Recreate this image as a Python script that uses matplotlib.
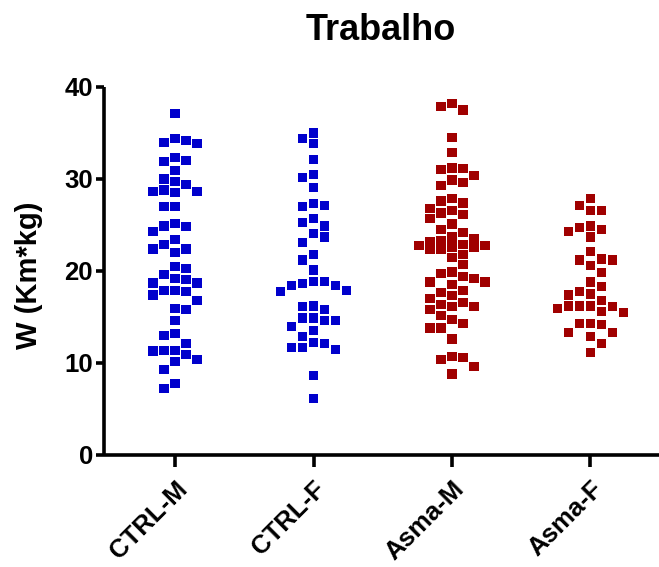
import numpy as np
import matplotlib
matplotlib.use("Agg")
import matplotlib.pyplot as plt

plt.rcParams['font.family'] = ['Liberation Sans', 'DejaVu Sans']

title = "Trabalho"
ylabel = "W (Km*kg)"
categories = ["CTRL-M", "CTRL-F", "Asma-M", "Asma-F"]
yticks = [0, 10, 20, 30, 40]

ctrl_m = [37.1, 34.2, 33.9, 34.0, 34.4, 32.0, 31.9, 32.3, 30.9, 29.7, 30.0, 29.4,
          28.8, 28.6, 28.5, 28.6, 27.0, 27.0, 24.9, 24.8, 25.2, 24.3, 23.4, 22.9,
          22.4, 22.0, 22.4, 20.3, 20.5, 19.2, 19.6, 18.7, 18.7, 19.1, 17.9, 17.4,
          17.8, 17.9, 16.8, 15.9, 15.8, 14.6, 13.0, 13.2, 12.1, 11.4, 10.9, 11.3,
          11.4, 10.2, 10.4, 9.3, 7.8, 7.2]
ctrl_f = [34.4, 33.9, 35.0, 32.1, 30.5, 30.2, 29.1, 27.1, 27.0, 27.3, 25.7, 24.9,
          25.3, 24.1, 23.7, 23.1, 21.8, 21.2, 20.1, 18.9, 18.6, 18.4, 17.8, 17.9,
          18.4, 18.9, 15.8, 16.2, 16.1, 14.9, 14.6, 14.6, 14.0, 14.9, 13.5, 12.9,
          12.2, 11.7, 11.5, 11.7, 12.1, 8.6, 6.1]
asma_m = [37.9, 37.5, 38.2, 34.5, 32.9, 31.2, 31.0, 31.1, 30.4, 29.6, 29.3, 29.9,
          27.9, 27.4, 27.6, 26.6, 26.8, 26.1, 25.7, 26.3, 25.1, 24.2, 24.5, 23.5,
          23.2, 22.6, 22.8, 22.3, 22.8, 22.9, 23.3, 22.4, 23.7, 22.6, 21.8, 21.5,
          20.7, 19.9, 19.7, 19.4, 19.2, 18.8, 18.8, 18.5, 17.9, 17.7, 17.3, 17.0,
          16.6, 16.4, 16.1, 16.1, 15.8, 15.2, 14.7, 13.8, 14.3, 13.8, 12.6, 10.6,
          10.4, 10.7, 9.6, 8.8]
asma_f = [27.9, 27.1, 26.6, 26.6, 24.9, 24.5, 23.7, 24.3, 24.7, 22.1, 21.2, 21.2,
          21.3, 20.6, 19.8, 18.8, 18.3, 17.5, 17.4, 17.8, 16.8, 16.2, 16.1, 15.6,
          15.5, 15.9, 16.2, 16.2, 14.3, 14.2, 14.3, 13.3, 12.9, 13.3, 12.1, 11.1]

groups = [ctrl_m, ctrl_f, asma_m, asma_f]
colors = ["#0000CC", "#0000CC", "#A00000", "#A00000"]


def swarm_offsets(values, thr=1.1, maxcol=3):
    vals = np.asarray(values, dtype=float)
    order = np.argsort(-vals, kind="stable")
    cols = {}
    offs = np.zeros(len(vals))
    cand = [0]
    for k in range(1, maxcol + 1):
        cand += [k, -k]
    for n, i in enumerate(order):
        v = vals[i]
        seq = cand if n % 2 == 0 else [-c for c in cand]
        best, bestd = None, -1
        for c in seq:
            placed = cols.get(c, [])
            d = min([abs(v - p) for p in placed], default=np.inf)
            if d >= thr:
                best = c
                break
            if d > bestd:
                bestd, best = d, c
        cols.setdefault(best, []).append(v)
        offs[i] = best
    return offs


fig = plt.figure(figsize=(6.59, 5.67), dpi=100)
ax = fig.add_axes([104 / 659, 112 / 567, 555 / 659, 368 / 567])

step = 0.0794
for i, (vals, col) in enumerate(zip(groups, colors)):
    offs = swarm_offsets(vals)
    ax.scatter(i + offs * step, vals, marker="s", s=44, color=col,
               edgecolors="none", zorder=3, clip_on=False)

ax.set_xlim(-0.513, 3.495)
ax.set_ylim(0, 40)
ax.set_yticks(yticks)
ax.set_xticks(range(len(categories)))
ax.set_xticklabels(categories, rotation=45, ha="right", rotation_mode="anchor",
                   fontsize=18.5, fontweight="bold")
ax.set_yticklabels([str(t) for t in yticks], fontsize=18.5, fontweight="bold")

for s in ["top", "right"]:
    ax.spines[s].set_visible(False)
for s in ["left", "bottom"]:
    ax.spines[s].set_linewidth(2.6)
    ax.spines[s].set_capstyle("butt")
ax.tick_params(axis="y", direction="out", length=6, width=2.6, pad=2)
ax.tick_params(axis="x", direction="out", length=8.5, width=2.6, pad=7)

fig.text(381 / 659, 1 - 31 / 567, title, ha="center", va="center",
         fontsize=26, fontweight="bold")
fig.text(29 / 659, 1 - 275 / 567, ylabel, ha="center", va="center",
         rotation=90, fontsize=21, fontweight="bold")

fig.savefig("out.png", dpi=100)
